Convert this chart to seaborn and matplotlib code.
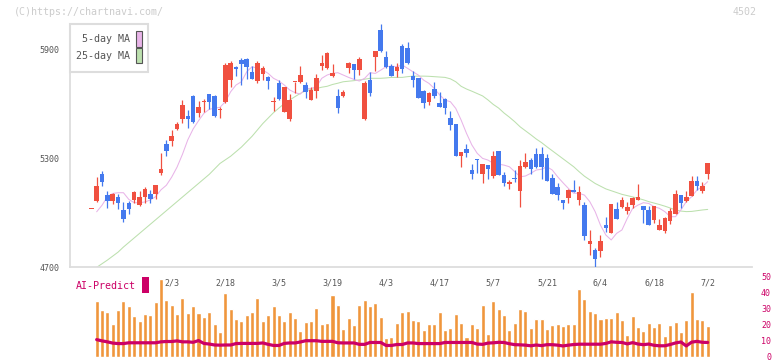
import numpy as np
import pandas as pd
import matplotlib
matplotlib.use("Agg")
import matplotlib.pyplot as plt
from matplotlib.patches import Rectangle
import seaborn as sns

# --- dados (4502, candles diarios) ---
datas = ["2/3", "2/18", "3/5", "3/19", "4/3", "4/17", "5/7", "5/21", "6/4", "6/18", "7/2"]
pos_datas = [15, 25, 35, 45, 55, 65, 75, 85, 95, 105, 115]

abertura = [5020, 5065, 5212, 5096, 5065, 5085, 5014, 5054, 5069, 5041, 5083, 5102, 5102, 5217, 5377, 5395,
            5460, 5513, 5531, 5641, 5550, 5606, 5652, 5641, 5562, 5610, 5729, 5803, 5839, 5845, 5775, 5724,
            5762, 5748, 5608, 5715, 5555, 5515, 5718, 5720, 5702, 5619, 5671, 5808, 5794, 5753, 5641, 5643,
            5797, 5816, 5784, 5513, 5729, 5858, 6005, 5854, 5808, 5781, 5917, 5904, 5751, 5739, 5669, 5610,
            5678, 5605, 5623, 5518, 5487, 5313, 5350, 5234, 5291, 5210, 5260, 5203, 5339, 5206, 5159, 5186,
            5120, 5252, 5289, 5320, 5320, 5302, 5188, 5139, 5069, 5082, 5124, 5069, 5041, 4828, 4794, 4790,
            4931, 4889, 5017, 5032, 5008, 5041, 5069, 5036, 5014, 4959, 4904, 4898, 4955, 4992, 5096, 5065,
            5093, 5173, 5120, 5210]
maxima = [5020, 5197, 5228, 5118, 5105, 5100, 5056, 5063, 5120, 5118, 5138, 5124, 5151, 5326, 5399, 5454,
          5500, 5619, 5564, 5645, 5614, 5623, 5654, 5645, 5579, 5821, 5836, 5805, 5849, 5852, 5806, 5832,
          5808, 5750, 5638, 5729, 5690, 5652, 5721, 5806, 5720, 5693, 5762, 5867, 5882, 5817, 5680, 5674,
          5830, 5818, 5858, 5724, 5772, 5890, 6038, 5889, 5820, 5821, 5926, 5937, 5779, 5742, 5674, 5665,
          5718, 5665, 5628, 5559, 5490, 5335, 5375, 5267, 5293, 5268, 5262, 5339, 5340, 5225, 5179, 5234,
          5289, 5326, 5298, 5353, 5362, 5320, 5210, 5161, 5070, 5128, 5179, 5146, 5056, 4904, 4803, 4876,
          4977, 5048, 5060, 5087, 5060, 5087, 5157, 5037, 5036, 5037, 4962, 4977, 5027, 5124, 5097, 5118,
          5201, 5201, 5170, 5272]
minima = [5020, 5058, 5148, 5027, 5045, 5021, 4949, 4992, 5050, 5036, 5050, 5054, 5074, 5206, 5313, 5366,
          5454, 5491, 5463, 5491, 5528, 5555, 5568, 5528, 5522, 5601, 5693, 5753, 5702, 5733, 5733, 5715,
          5729, 5682, 5561, 5619, 5555, 5506, 5656, 5711, 5632, 5619, 5632, 5784, 5790, 5748, 5550, 5638,
          5770, 5735, 5757, 5509, 5641, 5779, 5885, 5794, 5753, 5744, 5766, 5816, 5693, 5628, 5577, 5592,
          5628, 5579, 5542, 5454, 5310, 5252, 5304, 5183, 5216, 5164, 5185, 5188, 5205, 5148, 5129, 5166,
          5032, 5247, 5212, 5243, 5183, 5175, 5104, 5069, 5021, 5050, 5112, 5041, 4849, 4766, 4702, 4757,
          4894, 4888, 4964, 5023, 4992, 5023, 5068, 4944, 4930, 4944, 4903, 4889, 4937, 4991, 5027, 5060,
          5092, 5124, 5105, 5184]
fechamento = [5020, 5146, 5168, 5065, 5102, 5054, 4964, 5021, 5113, 5085, 5129, 5074, 5151, 5239, 5340, 5423,
              5487, 5592, 5515, 5500, 5579, 5614, 5610, 5531, 5566, 5812, 5821, 5792, 5816, 5803, 5733, 5821,
              5797, 5724, 5612, 5623, 5689, 5619, 5721, 5757, 5665, 5674, 5742, 5825, 5876, 5770, 5577, 5665,
              5825, 5784, 5845, 5715, 5660, 5889, 5889, 5803, 5753, 5799, 5788, 5821, 5729, 5632, 5601, 5656,
              5641, 5583, 5573, 5482, 5313, 5333, 5329, 5214, 5287, 5267, 5238, 5311, 5206, 5160, 5168, 5183,
              5256, 5276, 5239, 5252, 5252, 5175, 5104, 5096, 5054, 5124, 5113, 5115, 4872, 4843, 4742, 4843,
              4917, 5047, 4964, 5069, 5028, 5078, 5083, 5014, 4931, 5036, 4931, 4968, 5008, 5102, 5050, 5083,
              5173, 5148, 5146, 5271]

# medias moveis (a partir do 2o candle)
mm5 = [5004, 5040, 5087, 5105, 5109, 5109, 5072, 5054, 5054, 5058, 5069, 5087, 5125, 5150, 5195, 5250,
       5320, 5400, 5460, 5505, 5546, 5568, 5575, 5579, 5610, 5665, 5702, 5720, 5775, 5803, 5794, 5784,
       5766, 5739, 5724, 5702, 5675, 5660, 5652, 5683, 5683, 5693, 5739, 5757, 5766, 5770, 5757, 5744,
       5733, 5724, 5739, 5770, 5766, 5784, 5803, 5806, 5803, 5812, 5794, 5775, 5757, 5729, 5711, 5683,
       5647, 5619, 5610, 5573, 5509, 5436, 5372, 5326, 5298, 5289, 5271, 5266, 5261, 5252, 5225, 5197,
       5201, 5216, 5234, 5238, 5252, 5234, 5197, 5164, 5133, 5106, 5106, 5096, 5060, 5005, 4930, 4876,
       4849, 4885, 4904, 4968, 5023, 5041, 5054, 5050, 5032, 5023, 5005, 4977, 4977, 5014, 5060, 5087,
       5124, 5142, 5170]
mm25 = [4698, 4718, 4738, 4760, 4782, 4810, 4835, 4860, 4885, 4910, 4935, 4960, 4985, 5010, 5035, 5060,
        5085, 5110, 5135, 5160, 5185, 5210, 5240, 5270, 5290, 5310, 5335, 5360, 5390, 5420, 5455, 5490,
        5520, 5550, 5575, 5600, 5619, 5638, 5656, 5670, 5678, 5683, 5690, 5695, 5705, 5712, 5720, 5723,
        5726, 5730, 5734, 5739, 5739, 5739, 5741, 5744, 5744, 5744, 5748, 5751, 5751, 5751, 5750, 5748,
        5746, 5744, 5736, 5720, 5695, 5680, 5668, 5655, 5642, 5620, 5595, 5575, 5548, 5525, 5500, 5472,
        5450, 5428, 5405, 5385, 5362, 5340, 5318, 5296, 5274, 5252, 5225, 5200, 5180, 5160, 5145, 5130,
        5120, 5110, 5100, 5093, 5086, 5078, 5070, 5060, 5052, 5044, 5035, 5025, 5014, 5008, 5005, 5006,
        5010, 5014, 5017]

# painel AI-Predict
ai_barras = [35.6, 29.9, 28.2, 20.7, 29.9, 35.6, 32.5, 25.7, 23.1, 27.4, 26.4, 35.1, 49.3, 36.1, 33.0, 27.5,
             37.6, 27.6, 32.0, 28.0, 25.3, 28.7, 21.1, 16.0, 40.7, 30.5, 24.2, 23.1, 26.7, 28.7, 37.4, 23.0,
             26.7, 32.4, 26.3, 23.0, 28.6, 25.0, 16.6, 22.3, 23.0, 31.2, 21.1, 21.7, 39.3, 33.0, 17.9, 25.0,
             20.4, 33.0, 36.1, 32.4, 34.3, 25.5, 12.3, 12.9, 21.7, 28.6, 29.2, 23.6, 23.0, 17.3, 21.1, 21.1,
             28.6, 17.3, 18.6, 27.4, 21.7, 12.9, 21.1, 18.6, 33.0, 14.8, 35.5, 30.5, 26.3, 17.3, 21.8, 30.5,
             29.2, 18.6, 24.3, 24.3, 17.9, 20.4, 21.1, 19.8, 20.6, 21.1, 43.2, 36.9, 29.2, 28.0, 24.3, 24.8,
             24.8, 28.2, 23.2, 14.1, 26.1, 19.2, 16.7, 21.7, 19.2, 21.7, 13.5, 20.4, 22.3, 16.1, 23.2, 41.2,
             24.2, 23.2, 19.8]
ai_linha = [11.0, 10.2, 9.6, 8.8, 8.5, 8.5, 9.0, 9.0, 9.0, 9.0, 9.0, 9.0, 9.6, 9.8, 9.8, 10.2,
            9.6, 9.6, 9.3, 10.4, 8.6, 8.2, 7.6, 7.5, 7.6, 7.6, 8.5, 8.6, 8.6, 8.6, 8.6, 8.9,
            8.0, 7.3, 7.3, 8.6, 8.9, 8.9, 9.5, 10.3, 10.3, 10.3, 9.9, 9.9, 9.9, 9.0, 8.9, 8.9,
            8.9, 8.0, 8.0, 9.2, 9.2, 9.2, 7.3, 7.3, 7.9, 7.9, 8.9, 8.9, 8.5, 8.5, 8.5, 8.5,
            8.5, 9.2, 9.2, 9.2, 9.2, 9.2, 9.2, 8.2, 8.0, 8.8, 9.0, 9.3, 9.2, 8.4, 7.8, 7.7,
            7.5, 7.1, 7.6, 7.2, 7.8, 7.8, 7.5, 7.0, 7.5, 7.9, 8.1, 8.1, 8.1, 8.1, 8.1, 8.6,
            9.6, 9.3, 9.2, 8.3, 9.1, 8.2, 7.8, 8.2, 7.4, 7.1, 7.1, 7.9, 8.9, 9.5, 7.0, 9.4,
            9.9, 9.3, 9.2]

VERMELHO = "#F05040"
AZUL = "#4479EE"
LARANJA = "#F0963C"
MAGENTA = "#CC0066"
ROSA = "#E8B4E8"
VERDE = "#BCE0AE"

sns.set_style("white")
plt.rcParams["font.family"] = ["DejaVu Sans Mono"]

W, H = 772, 361
def fx(px):
    return px / W
def fy(py):
    return 1 - py / H

fig = plt.figure(figsize=(W / 100, H / 100), dpi=100)
ax = fig.add_axes([fx(70), fy(267), (752 - 70) / W, (267 - 24) / H])
ax2 = fig.add_axes([fx(70), fy(357), (752 - 70) / W, (357 - 278) / H])
ax2.patch.set_alpha(0)

xlim = ((70 - 91.3) / 5.36, (752 - 91.3) / 5.36)

# candles
o = np.array(abertura)
h = np.array(maxima)
l = np.array(minima)
c = np.array(fechamento)
idx = np.arange(len(o))
cores = np.where(c >= o, VERMELHO, AZUL)
ax.vlines(idx, l, h, colors=cores, lw=0.9, zorder=3)
ax.bar(idx, np.maximum(np.abs(c - o), 7), bottom=np.minimum(o, c), width=0.84,
       color=cores, linewidth=0, zorder=4)

df_mm = pd.DataFrame({"i": idx[1:], "mm5": mm5, "mm25": mm25})
sns.lineplot(data=df_mm, x="i", y="mm25", color=VERDE, lw=0.75, ax=ax, zorder=2)
sns.lineplot(data=df_mm, x="i", y="mm5", color=ROSA, lw=0.75, ax=ax, zorder=2)

ax.set_xlim(*xlim)
ax.set_ylim(4700, 6038)
ax.set_xlabel("")
ax.set_ylabel("")
for s in ["top", "right"]:
    ax.spines[s].set_visible(False)
for s in ["left", "bottom"]:
    ax.spines[s].set_color("#dddddd")
    ax.spines[s].set_linewidth(1.3)

ax.set_yticks([4700, 5300, 5900])
ax.tick_params(axis="y", direction="inout", length=5.8, width=1, color="#dddddd",
               pad=4.8, labelsize=6, labelcolor="#555555")
ax.set_xticks(np.linspace(xlim[0], xlim[1], 12))
ax.tick_params(axis="x", which="major", direction="inout", length=4, width=1,
               color="#dddddd", labelbottom=False)
ax.set_xticks(pos_datas, minor=True)
ax.set_xticklabels(datas, minor=True)
ax.tick_params(axis="x", which="minor", length=0, pad=8.4, labelsize=6, labelcolor="#555555")

# painel inferior
df_ai = pd.DataFrame({"i": idx[1:], "barra": ai_barras, "linha": ai_linha})
sns.barplot(data=df_ai, x="i", y="barra", native_scale=True, color=LARANJA, saturation=1,
            width=0.76, errorbar=None, ax=ax2)
sns.lineplot(data=df_ai, x="i", y="linha", color=MAGENTA, lw=2.3, ax=ax2)
ax2.set_xlim(*xlim)
ax2.set_ylim(0, 50)
ax2.set_xlabel("")
ax2.set_ylabel("")
ax2.set_xticks([])
for s in ax2.spines.values():
    s.set_visible(False)
ax2.yaxis.tick_right()
ax2.set_yticks([0, 10, 20, 30, 40, 50])
ax2.tick_params(axis="y", length=0, pad=13.7, labelsize=6, labelcolor=MAGENTA)
for t in ax2.get_yticklabels():
    t.set_horizontalalignment("right")
    t.set_verticalalignment("center")

# textos e legenda
fig.text(fx(14), fy(12), "(C)https://chartnavi.com/", fontsize=7.2, color="#cccccc", va="center")
fig.text(fx(757), fy(12), "4502", fontsize=7.2, color="#cccccc", va="center", ha="right")

fig.add_artist(Rectangle((fx(70), fy(72)), 78 / W, 48 / H, transform=fig.transFigure,
                         facecolor="white", edgecolor="#dddddd", lw=1.5, zorder=5))
fig.text(fx(130), fy(39), "5-day MA", fontsize=7.2, color="#555555", ha="right", va="center", zorder=6)
fig.text(fx(130), fy(56), "25-day MA", fontsize=7.2, color="#555555", ha="right", va="center", zorder=6)
fig.add_artist(Rectangle((fx(136), fy(46.5)), 6 / W, 15.5 / H, transform=fig.transFigure,
                         facecolor=ROSA, edgecolor="#555555", lw=0.8, zorder=6))
fig.add_artist(Rectangle((fx(136), fy(63)), 6 / W, 15 / H, transform=fig.transFigure,
                         facecolor=VERDE, edgecolor="#555555", lw=0.8, zorder=6))

fig.text(fx(76), fy(286), "AI-Predict", fontsize=7.2, color=MAGENTA, va="center")
fig.add_artist(Rectangle((fx(142), fy(293)), 7 / W, 16 / H, transform=fig.transFigure,
                         facecolor=MAGENTA, edgecolor="none", zorder=6))

fig.savefig("out.png", dpi=100)
